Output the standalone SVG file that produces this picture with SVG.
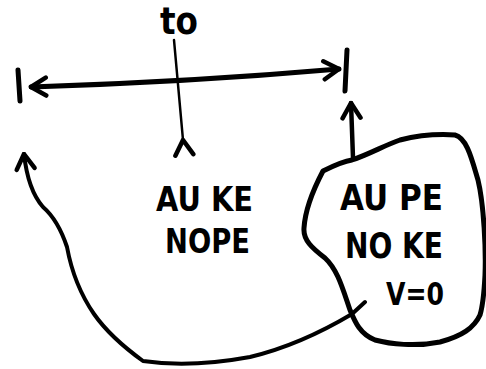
<svg xmlns="http://www.w3.org/2000/svg" width="486" height="369" viewBox="0 0 486 369">
  <style>
    .ink { fill: none; stroke: #000; stroke-linecap: round; stroke-linejoin: round; }
    .bar { stroke-width: 5; }
    .lbl { font-family: "DejaVu Sans", "Liberation Sans", sans-serif; font-weight: bold; fill: #000; }
  </style>
  <defs>
    <marker id="head" viewBox="-18 -12 20 24" refX="0" refY="0" markerWidth="20" markerHeight="24" markerUnits="userSpaceOnUse" orient="auto">
      <path d="M-15,-9 L0,0 L-15,9" fill="none" stroke="#000" stroke-width="4.5" stroke-linecap="round" stroke-linejoin="round"/>
    </marker>
    <marker id="head-rev" viewBox="-18 -12 20 24" refX="0" refY="0" markerWidth="20" markerHeight="24" markerUnits="userSpaceOnUse" orient="auto-start-reverse">
      <path d="M-15,-9 L0,0 L-15,9" fill="none" stroke="#000" stroke-width="4.5" stroke-linecap="round" stroke-linejoin="round"/>
    </marker>
  </defs>
  <rect width="486" height="369" fill="#fff"/>

  <g id="tick-left">
    <path class="ink bar" d="M18,70 L20,101"/>
  </g>
  <g id="tick-right">
    <path class="ink bar" d="M347,50 L345,91"/>
  </g>
  <g id="label-to">
    <text class="lbl" x="160" y="34" font-size="38" textLength="38" lengthAdjust="spacingAndGlyphs">to</text>
  </g>
  <g id="state-a">
    <text class="lbl" x="156" y="211" font-size="34" textLength="97" lengthAdjust="spacingAndGlyphs">AU KE</text>
    <text class="lbl" x="165" y="253" font-size="34" textLength="85" lengthAdjust="spacingAndGlyphs">NOPE</text>
  </g>
  <g id="state-b">
    <path class="ink" stroke-width="5" d="M323,171 C335,165 345,161 352,160 C370,154 385,145 400,140 C420,135 440,134 455,135 C467,138 472,160 478,180 C484,205 486,250 485,275 C484,295 483,305 480,315 C474,328 462,336 440,342 C415,347 390,344 375,340 C360,334 355,322 350,310 C343,290 338,270 325,258 C312,248 303,240 304,228 C305,212 313,190 323,171 Z"/>
    <text class="lbl" x="340" y="210" font-size="36" textLength="103" lengthAdjust="spacingAndGlyphs">AU PE</text>
    <text class="lbl" x="345" y="258" font-size="36" textLength="98" lengthAdjust="spacingAndGlyphs">NO KE</text>
    <text class="lbl" x="386" y="305" font-size="32" textLength="58" lengthAdjust="spacingAndGlyphs">V=0</text>
  </g>

  <g id="connectors">
    <path class="ink" stroke-width="5" d="M31,87 Q190,82 339,69" marker-start="url(#head-rev)" marker-end="url(#head)"/>
    <path class="ink" stroke-width="2.5" d="M183,140 L174,40" marker-start="url(#head)"/>
    <path class="ink" stroke-width="4.5" d="M353,158 L351,103" marker-end="url(#head)"/>
    <path class="ink" stroke-width="4" d="M365,302 L352,314 Q300,345 250,357 Q190,368 143,361 Q110,337 94,314 Q74,285 67,247 Q58,220 43,207 Q28,190 24,154" marker-end="url(#head)"/>
  </g>
</svg>
